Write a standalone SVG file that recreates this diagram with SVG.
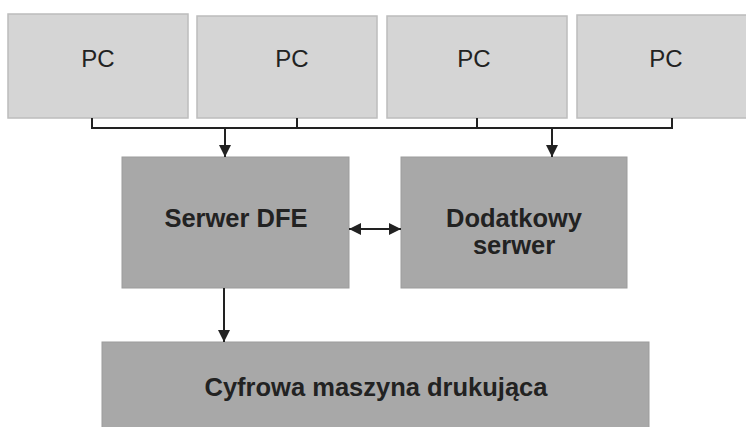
<svg xmlns="http://www.w3.org/2000/svg" width="746" height="427" viewBox="0 0 746 427">
<style>
.pc{fill:#d5d5d5;stroke:#bcbcbc;stroke-width:1.5}
.srv{fill:#a8a8a8;stroke:#9c9c9c;stroke-width:1}
.t{font-family:"Liberation Sans",Arial,sans-serif;fill:#222;text-anchor:middle}
.b{font-weight:bold;font-size:25.5px}
.ln{stroke:#222;stroke-width:2;fill:none}
</style>
<defs>
<marker id="ah" viewBox="0 0 10 10" refX="10" refY="5" markerWidth="6" markerHeight="6" orient="auto-start-reverse" markerUnits="strokeWidth">
<path d="M0,0 L10,5 L0,10 z" fill="#222"/>
</marker>
</defs>
<rect width="746" height="427" fill="#fff"/>
<g id="pc1"><rect class="pc" x="8" y="14" width="180" height="104"/><text class="t" x="98" y="67" font-size="24">PC</text></g>
<g id="pc2"><rect class="pc" x="197" y="16" width="180" height="102"/><text class="t" x="292" y="67" font-size="24">PC</text></g>
<g id="pc3"><rect class="pc" x="387" y="16" width="180" height="102"/><text class="t" x="474" y="67" font-size="24">PC</text></g>
<g id="pc4"><rect class="pc" x="577" y="15" width="175" height="103"/><text class="t" x="666" y="67" font-size="24">PC</text></g>
<g id="dfe"><rect class="srv" x="122" y="157" width="227" height="131"/><text class="t b" x="236" y="227">Serwer DFE</text></g>
<g id="dod"><rect class="srv" x="401" y="157" width="226" height="131"/><text class="t b" x="514" y="227">Dodatkowy</text><text class="t b" x="514" y="254">serwer</text></g>
<g id="cyf"><rect class="srv" x="102" y="342" width="547" height="90"/><text class="t b" x="376" y="396">Cyfrowa maszyna drukująca</text></g>
<g id="connectors">
<path class="ln" d="M92,118 V128 H672 V118 M297,118 V128 M477,118 V128"/>
<path class="ln" d="M225,128 V157" marker-end="url(#ah)"/>
<path class="ln" d="M552,128 V157" marker-end="url(#ah)"/>
<path class="ln" d="M349,229 H401" marker-start="url(#ah)" marker-end="url(#ah)"/>
<path class="ln" d="M224,288 V342" marker-end="url(#ah)"/>
</g>
</svg>
